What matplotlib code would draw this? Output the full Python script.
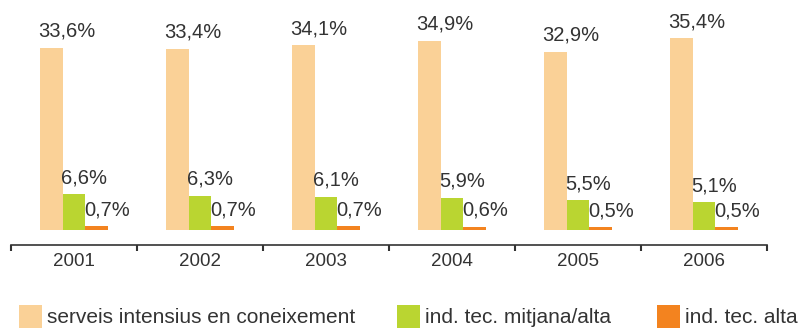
import matplotlib.pyplot as plt
from matplotlib.patches import Rectangle
import numpy as np

anys = ["2001", "2002", "2003", "2004", "2005", "2006"]
serveis = [33.6, 33.4, 34.1, 34.9, 32.9, 35.4]
mitjana_alta = [6.6, 6.3, 6.1, 5.9, 5.5, 5.1]
alta = [0.7, 0.7, 0.7, 0.6, 0.5, 0.5]

series = ["serveis intensius en coneixement", "ind. tec. mitjana/alta", "ind. tec. alta"]
colors = ["#FAD197", "#BAD531", "#F3831F"]

TEXT = "#333333"
plt.rcParams['font.family'] = ['Liberation Sans', 'DejaVu Sans']

W, H = 802, 328
fig = plt.figure(figsize=(W / 100, H / 100), dpi=100)
# eix: de x=11 a x=767 px, de y=0 a y=245 px (des de dalt)
ax = fig.add_axes([11 / W, (H - 245) / H, 756 / W, 245 / H])

x = np.arange(len(anys))
amplada = 0.1825
valors = [serveis, mitjana_alta, alta]

for i, (vals, col) in enumerate(zip(valors, colors)):
    pos = x + (i - 1) * amplada
    ax.bar(pos, vals, width=amplada, color=col, linewidth=0)
    for xp, v in zip(pos, vals):
        ax.annotate(f"{v:.1f}%".replace(".", ","),
                    xy=(xp - amplada / 2, v), xytext=(-1, 8),
                    textcoords="offset points", ha="left", va="baseline",
                    fontsize=14.5, color=TEXT)

px_per_pct = 5.42
ax.set_xlim(-0.5, len(anys) - 0.5)
ax.set_ylim(-15 / px_per_pct, 230 / px_per_pct)

for s in ["top", "right", "left"]:
    ax.spines[s].set_visible(False)
ax.spines["bottom"].set_color(TEXT)
ax.spines["bottom"].set_linewidth(1.2)

ax.set_yticks([])
ax.set_xticks(x)
ax.set_xticklabels(anys, fontsize=13.5, color=TEXT)
ax.tick_params(axis="x", which="major", length=0, pad=6)
ax.set_xticks(np.arange(-0.5, len(anys), 1.0), minor=True)
ax.tick_params(axis="x", which="minor", length=4, width=1.5, color=TEXT, direction="out")

# llegenda a la part inferior
llegenda_x = [19, 397, 657]
for lx, nom, col in zip(llegenda_x, series, colors):
    fig.patches.append(Rectangle((lx / W, 0), 23 / W, (H - 305) / H,
                                 transform=fig.transFigure, color=col, linewidth=0))
    fig.text((lx + 28) / W, 5 / H, nom, fontsize=15, color=TEXT,
             ha="left", va="baseline")

fig.savefig("out.png", dpi=100)
